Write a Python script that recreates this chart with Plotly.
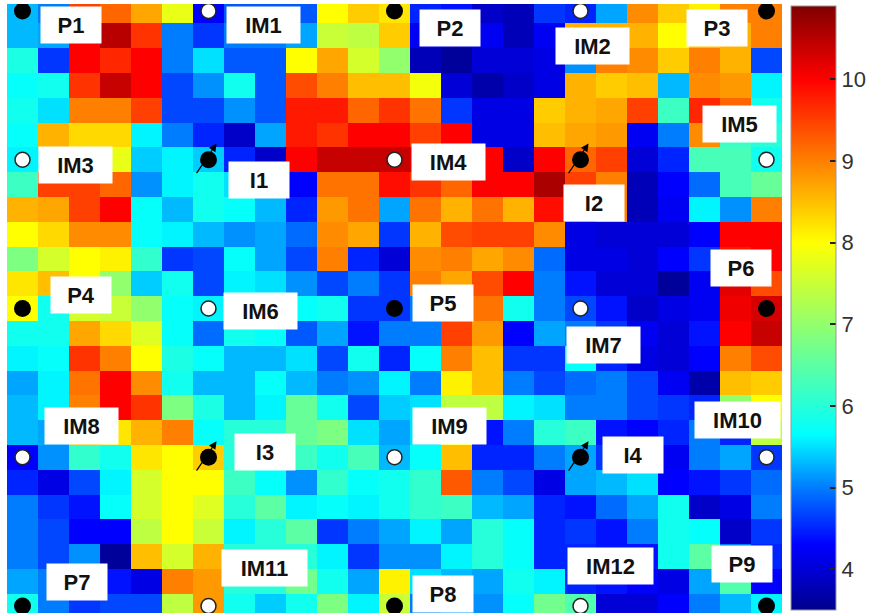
import plotly.graph_objects as go

# ---- data: 25 x 25 grid (row 0 = top) ----
z = [
 [5.3, 5.0, 9.5, 9.2, 8.7, 7.8, 4.3, 4.8, 4.8, 4.8, 8.0, 8.4, 8.2, 4.5, 4.4, 3.9, 3.8, 4.6, 4.5, 5.2, 8.9, 8.4, 8.1, 9.0, 9.0],
 [5.3, 5.2, 10.0, 10.5, 9.6, 5.0, 4.6, 5.0, 5.0, 5.2, 7.5, 7.4, 8.4, 4.2, 4.0, 4.2, 3.8, 4.2, 8.6, 8.6, 8.6, 8.0, 8.5, 8.6, 9.0],
 [5.9, 4.6, 10.0, 9.7, 10.0, 5.0, 5.5, 4.8, 4.8, 8.0, 8.7, 7.6, 7.0, 3.8, 3.6, 4.0, 4.0, 4.1, 5.1, 9.0, 8.9, 8.4, 9.0, 8.6, 4.7],
 [5.7, 5.8, 9.6, 10.4, 10.0, 4.7, 5.1, 5.8, 4.8, 9.4, 9.0, 8.5, 8.5, 7.9, 4.0, 3.7, 3.9, 4.1, 8.6, 8.4, 8.5, 5.3, 8.9, 8.8, 5.6],
 [5.8, 5.5, 9.0, 9.0, 9.5, 4.7, 4.7, 5.1, 4.8, 9.8, 9.8, 9.2, 9.6, 9.1, 4.6, 4.1, 4.1, 8.4, 8.6, 8.7, 9.5, 6.2, 9.7, 9.2, 5.8],
 [5.7, 8.6, 8.3, 8.3, 5.6, 5.0, 4.5, 3.9, 5.2, 9.8, 9.6, 10.0, 10.0, 9.5, 10.0, 4.1, 4.1, 8.5, 8.7, 8.8, 4.2, 5.0, 8.9, 6.2, 6.0],
 [5.6, 6.0, 7.0, 7.8, 5.4, 5.6, 5.4, 4.5, 3.9, 10.0, 10.4, 10.4, 10.4, 10.2, 10.0, 10.0, 3.9, 10.0, 9.2, 9.5, 4.0, 4.5, 6.3, 6.3, 5.8],
 [6.2, 9.5, 9.5, 9.2, 5.1, 5.6, 5.8, 5.5, 5.0, 4.3, 9.1, 9.1, 9.9, 9.6, 9.2, 10.0, 10.0, 10.6, 9.5, 9.0, 3.8, 4.3, 4.9, 6.3, 6.6],
 [8.6, 8.7, 9.5, 10.0, 5.7, 5.3, 5.8, 5.7, 5.3, 4.5, 8.8, 9.1, 5.2, 9.1, 8.6, 9.1, 8.6, 9.9, 9.5, 9.0, 3.8, 4.2, 5.6, 5.1, 9.0],
 [8.0, 8.3, 8.9, 8.9, 5.7, 5.6, 5.3, 5.1, 5.2, 4.9, 8.9, 8.7, 4.6, 8.6, 9.4, 9.5, 9.5, 8.9, 4.1, 4.0, 4.0, 4.0, 4.3, 10.0, 10.0],
 [6.8, 7.6, 8.0, 8.1, 6.1, 4.6, 4.7, 5.7, 5.2, 4.7, 9.0, 4.5, 4.0, 8.9, 9.0, 8.7, 8.9, 4.9, 4.1, 4.1, 4.0, 4.3, 4.6, 9.8, 10.0],
 [8.2, 8.5, 8.0, 7.0, 5.4, 5.8, 4.7, 5.6, 5.5, 5.1, 4.7, 5.0, 4.6, 9.0, 8.7, 9.4, 10.0, 5.0, 4.4, 4.0, 4.0, 3.6, 4.2, 10.2, 9.4],
 [8.0, 5.8, 7.6, 7.5, 7.0, 5.7, 5.6, 5.5, 5.5, 5.7, 5.8, 4.6, 4.6, 5.0, 9.0, 9.1, 5.8, 5.0, 4.7, 4.4, 3.9, 4.1, 4.2, 10.1, 10.3],
 [5.8, 5.8, 8.7, 8.3, 7.7, 5.7, 4.9, 5.8, 5.7, 4.8, 5.2, 4.4, 5.0, 5.0, 9.5, 8.8, 4.3, 5.2, 5.0, 4.6, 4.2, 4.0, 4.4, 10.0, 10.4],
 [5.6, 5.7, 9.6, 9.0, 8.0, 5.9, 5.7, 5.3, 5.3, 5.5, 4.7, 5.8, 4.5, 5.7, 9.0, 8.5, 4.6, 4.6, 5.7, 4.5, 4.1, 4.0, 4.3, 9.0, 9.4],
 [5.2, 5.6, 9.1, 10.0, 8.9, 5.8, 5.3, 5.3, 5.7, 5.3, 5.0, 5.1, 5.6, 5.0, 8.1, 8.5, 5.0, 4.7, 4.9, 5.0, 4.7, 4.2, 3.7, 8.5, 8.4],
 [5.3, 5.6, 9.0, 10.0, 9.6, 6.8, 5.9, 5.3, 5.6, 6.6, 5.8, 4.7, 5.4, 5.5, 7.4, 7.4, 5.6, 5.5, 5.0, 5.0, 4.7, 4.6, 4.5, 7.0, 8.0],
 [5.3, 5.2, 8.5, 8.2, 8.6, 9.0, 5.7, 6.0, 6.0, 6.6, 6.8, 5.5, 5.2, 5.5, 8.0, 4.4, 5.0, 6.0, 6.2, 4.4, 4.3, 4.5, 5.0, 4.5, 7.4],
 [4.3, 5.1, 6.1, 5.8, 8.2, 8.0, 8.4, 6.0, 6.0, 6.2, 5.8, 6.3, 5.3, 5.7, 8.5, 4.5, 4.5, 5.0, 5.2, 4.6, 4.5, 4.2, 5.0, 5.2, 4.6],
 [4.5, 4.1, 4.7, 5.6, 7.6, 8.0, 8.0, 6.2, 5.7, 5.1, 6.1, 5.7, 5.8, 6.1, 9.3, 5.0, 4.7, 4.1, 5.2, 5.3, 5.5, 4.3, 4.4, 4.6, 4.9],
 [5.0, 4.6, 4.4, 5.7, 7.6, 8.0, 7.7, 6.0, 6.5, 5.6, 5.7, 5.6, 5.8, 6.1, 6.2, 5.3, 5.2, 4.5, 4.4, 4.9, 5.2, 5.8, 3.9, 4.1, 5.0],
 [5.0, 4.7, 4.3, 4.3, 7.4, 8.0, 7.5, 5.6, 6.0, 6.5, 4.6, 5.0, 5.2, 5.6, 5.2, 6.0, 5.7, 4.5, 4.6, 4.4, 5.0, 5.8, 5.7, 3.9, 4.6],
 [5.0, 4.7, 5.1, 3.6, 8.5, 7.6, 8.6, 6.0, 6.0, 6.0, 5.6, 4.6, 5.1, 5.1, 5.6, 6.0, 5.7, 4.5, 4.5, 4.4, 4.4, 5.8, 6.5, 5.0, 4.5],
 [5.2, 5.0, 4.8, 4.4, 4.1, 9.0, 8.8, 6.0, 6.0, 6.7, 5.8, 5.2, 8.1, 5.5, 5.3, 5.2, 5.8, 5.6, 4.5, 4.4, 4.3, 4.1, 5.2, 6.4, 4.3],
 [5.8, 5.0, 4.6, 4.7, 4.7, 7.4, 8.8, 5.8, 5.4, 5.8, 6.8, 5.6, 7.5, 5.0, 5.2, 5.1, 5.7, 6.7, 6.4, 4.0, 4.0, 4.3, 5.0, 5.3, 5.6],
]
cols = list(range(25))
rows = list(range(25))

# point markers: name, column, row
pt_names = ["P1", "IM1", "P2", "IM2", "P3",
            "IM3", "I1", "IM4", "I2", "IM5",
            "P4", "IM6", "P5", "IM7", "P6",
            "IM8", "I3", "IM9", "I4", "IM10",
            "P7", "IM11", "P8", "IM12", "P9"]
pt_col = [0, 6, 12, 18, 24] * 5
pt_row = [0] * 5 + [6] * 5 + [12] * 5 + [18] * 5 + [24] * 5

# label box centres (col, row)
lab_col = [1.58, 7.79, 13.78, 18.39, 22.39,
           1.71, 7.63, 13.74, 18.42, 23.12,
           1.90, 7.69, 13.58, 18.74, 23.19,
           1.90, 7.82, 13.78, 19.70, 23.06,
           1.77, 7.82, 13.58, 18.96, 23.22]
lab_row = [0.57, 0.57, 0.69, 1.41, 0.69,
           6.21, 6.82, 6.09, 7.75, 4.56,
           11.46, 12.10, 11.78, 13.47, 10.37,
           16.74, 17.79, 16.74, 17.91, 16.50,
           23.03, 22.46, 23.51, 22.38, 22.30]

cb_ticks = [4, 5, 6, 7, 8, 9, 10]
zmin, zmax = 3.5, 10.9

stops = [(3.5, "rgb(0,0,140)"), (4.0, "rgb(0,0,215)"), (4.3, "rgb(0,0,255)"),
         (5.0, "rgb(0,125,255)"), (5.65, "rgb(0,255,255)"), (8.0, "rgb(255,255,0)"),
         (10.0, "rgb(255,0,0)"), (10.9, "rgb(128,0,0)")]
colorscale = [[(v - zmin) / (zmax - zmin), c] for v, c in stops]

W, H = 876, 616
L, R, T, B = 7, 88, 4, 3
pw, ph = W - L - R, H - T - B
cb_left, cb_top, cb_bot, cb_th = 797, 6, 610, 45

fig = go.Figure()
fig.add_trace(go.Heatmap(
    z=z, x=cols, y=rows, zmin=zmin, zmax=zmax, colorscale=colorscale,
    colorbar=dict(
        thickness=cb_th, thicknessmode="pixels",
        len=cb_bot - cb_top, lenmode="pixels",
        x=(cb_left - L) / pw, xanchor="left", xpad=0,
        y=1 - ((cb_top + cb_bot) / 2 - T) / ph, yanchor="middle", ypad=0,
        tickvals=cb_ticks, ticktext=[str(t) for t in cb_ticks],
        ticks="inside", ticklen=6, tickcolor="#222", tickwidth=1.5,
        tickfont=dict(family="Liberation Sans, Arial", size=22, color="#333"),
        outlinecolor="#999", outlinewidth=1,
    ),
    hoverinfo="skip",
))

is_black = [not n.startswith("IM") for n in pt_names]
bx = [c for c, b in zip(pt_col, is_black) if b]
by = [r for r, b in zip(pt_row, is_black) if b]
wx = [c for c, b in zip(pt_col, is_black) if not b]
wy = [r for r, b in zip(pt_row, is_black) if not b]

fig.add_trace(go.Scatter(x=bx, y=by, mode="markers",
                         marker=dict(size=17, color="black"),
                         showlegend=False, hoverinfo="skip"))
fig.add_trace(go.Scatter(x=wx, y=wy, mode="markers",
                         marker=dict(size=15, color="white",
                                     line=dict(color="#222", width=1.5)),
                         showlegend=False, hoverinfo="skip"))

annotations = []
# arrows on the I points
for n, c, r in zip(pt_names, pt_col, pt_row):
    if n.startswith("I") and not n.startswith("IM"):
        annotations.append(dict(
            x=c + 0.26, y=r - 0.65, xref="x", yref="y",
            ax=-21, ay=31, text="", showarrow=True,
            arrowhead=2, arrowsize=1.3, arrowwidth=1.2, arrowcolor="black"))

for n, c, r in zip(pt_names, lab_col, lab_row):
    w = {2: 60, 3: 73, 4: 85}[len(n)]
    annotations.append(dict(
        x=c, y=r, xref="x", yref="y", text="<b>%s</b>" % n, showarrow=False,
        font=dict(family="Liberation Sans, Arial", size=22, color="#111"),
        bgcolor="white", width=w, height=36, borderpad=0,
        xanchor="center", yanchor="middle"))

# left-side colorbar tick marks (MATLAB style ticks on both edges)
shapes = []
for t in cb_ticks:
    py = cb_top + (zmax - t) / (zmax - zmin) * (cb_bot - cb_top)
    yp = 1 - (py - T) / ph
    x0 = (cb_left - L) / pw
    shapes.append(dict(type="line", xref="paper", yref="paper",
                       x0=x0, x1=x0 + 6 / pw, y0=yp, y1=yp,
                       line=dict(color="#222", width=1.5)))

fig.update_layout(
    width=W, height=H,
    margin=dict(l=L, r=R, t=T, b=B),
    paper_bgcolor="white", plot_bgcolor="white",
    xaxis=dict(range=[-0.5, 24.5], visible=False, fixedrange=True),
    yaxis=dict(range=[24.28, -0.28], visible=False, fixedrange=True),
    annotations=annotations,
    shapes=shapes,
)

fig.write_html("out.html")
